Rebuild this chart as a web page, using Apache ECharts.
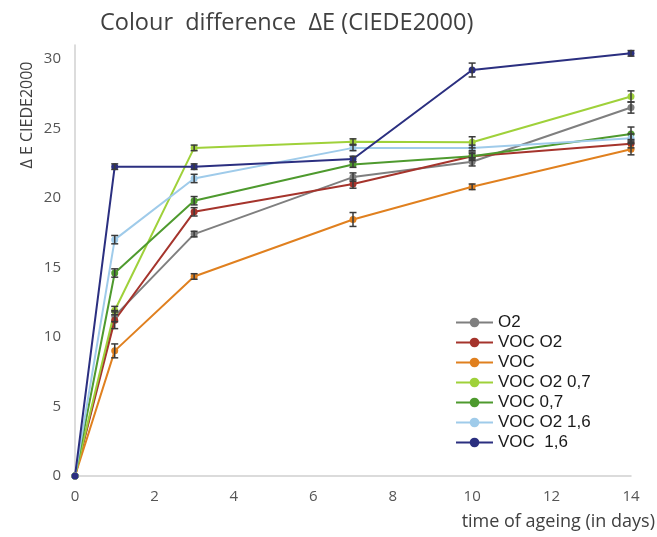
<!DOCTYPE html>
<html><head><meta charset="utf-8">
<script src="https://cdn.jsdelivr.net/npm/echarts@6/dist/echarts.min.js"></script>
<style>html,body{margin:0;padding:0;background:#fff}#c{width:657px;height:537px}</style>
</head><body><div id="c"></div>
<script>
var days = [0, 1, 3, 7, 10, 14];
var xTicks = [0, 2, 4, 6, 8, 10, 12, 14];
var seriesNames = ['O2', 'VOC O2', 'VOC', 'VOC O2 0,7', 'VOC 0,7', 'VOC O2 1,6', 'VOC  1,6'];
var o2 =        [0, 11.5, 17.4, 21.5, 22.6, 26.5];
var vocO2 =     [0, 11.2, 19.0, 21.0, 23.0, 23.9];
var voc =       [0, 9.0, 14.35, 18.45, 20.8, 23.5];
var vocO2_07 =  [0, 11.9, 23.6, 24.05, 24.0, 27.3];
var voc07 =     [0, 14.6, 19.8, 22.4, 23.0, 24.6];
var vocO2_16 =  [0, 17.0, 21.4, 23.6, 23.6, 24.3];
var voc16 =     [0, 22.25, 22.25, 22.8, 29.2, 30.4];
// error bar half-widths (estimated)
var errO2 =       [0, 0.4, 0.2, 0.3, 0.3, 0.4];
var errVocO2 =    [0, 0.6, 0.3, 0.3, 0.3, 0.3];
var errVoc =      [0, 0.5, 0.2, 0.5, 0.2, 0.4];
var errVocO2_07 = [0, 0.3, 0.2, 0.2, 0.4, 0.4];
var errVoc07 =    [0, 0.3, 0.3, 0.2, 0.2, 0.5];
var errVocO2_16 = [0, 0.3, 0.3, 0.2, 0.2, 0.3];
var errVoc16 =    [0, 0.2, 0.2, 0.2, 0.5, 0.2];

var values = [o2, vocO2, voc, vocO2_07, voc07, vocO2_16, voc16];
var errs = [errO2, errVocO2, errVoc, errVocO2_07, errVoc07, errVocO2_16, errVoc16];
var colors = ['#7f7f7f', '#a5342c', '#e0801f', '#9fd13a', '#4e9a2e', '#9fcbea', '#2b2f80'];

var series = [];
values.forEach(function (vals, i) {
  series.push({
    name: seriesNames[i], type: 'line', data: days.map(function (d, k) { return [d, vals[k]]; }),
    symbol: 'circle', symbolSize: 7, z: 3,
    lineStyle: { color: colors[i], width: 2 }, itemStyle: { color: colors[i] }
  });
});
values.forEach(function (vals, i) {
  series.push({
    type: 'custom', name: seriesNames[i] + ' err', z: 4,
    data: days.map(function (d, k) { return [d, vals[k] - errs[i][k], vals[k] + errs[i][k]]; }),
    renderItem: function (params, api) {
      var lo = api.coord([api.value(0), api.value(1)]);
      var hi = api.coord([api.value(0), api.value(2)]);
      if (Math.abs(hi[1] - lo[1]) < 3) return null;
      var w = 3.5;
      var st = { stroke: '#3a3a3a', lineWidth: 1.5 };
      return { type: 'group', children: [
        { type: 'line', shape: { x1: lo[0], y1: lo[1], x2: hi[0], y2: hi[1] }, style: st },
        { type: 'line', shape: { x1: lo[0] - w, y1: lo[1], x2: lo[0] + w, y2: lo[1] }, style: st },
        { type: 'line', shape: { x1: hi[0] - w, y1: hi[1], x2: hi[0] + w, y2: hi[1] }, style: st }
      ]};
    },
    encode: { x: 0, y: [1, 2] }, silent: true
  });
});

var chart = echarts.init(document.getElementById('c'));
chart.setOption({
  animation: false,
  backgroundColor: '#fff',
  title: {
    text: 'Colour  difference  ΔE (CIEDE2000)', left: 95, top: 6,
    textStyle: { fontFamily: 'Open Sans', fontWeight: 'normal', fontSize: 23.5, color: '#404040' }
  },
  legend: {
    data: seriesNames, orient: 'vertical', left: 455, top: 314, padding: 0,
    itemWidth: 37, itemHeight: 12, itemGap: 3,
    itemStyle: { borderWidth: 0 },
    textStyle: { fontFamily: 'Liberation Sans', fontSize: 17, color: '#1a1a1a' },
    backgroundColor: '#fff'
  },
  grid: { left: 75, right: 26, top: 45, bottom: 61 },
  xAxis: {
    type: 'value', min: 0, max: 14, interval: 2,
    axisLine: { lineStyle: { color: '#d0d0d0', width: 1.5 } },
    axisTick: { show: false }, splitLine: { show: false },
    axisLabel: { color: '#555', fontFamily: 'Open Sans', fontSize: 15, margin: 13,
      formatter: function (v) { return xTicks.indexOf(v) >= 0 ? String(v) : ''; } }
  },
  yAxis: {
    type: 'value', min: 0, max: 31, interval: 5,
    axisLine: { show: true, lineStyle: { color: '#d0d0d0', width: 1.5 } },
    axisTick: { show: false }, splitLine: { show: false },
    axisLabel: { color: '#555', fontFamily: 'Open Sans', fontSize: 15, margin: 14,
      formatter: function (v) { return v % 5 === 0 ? String(v) : ''; } }
  },
  graphic: [
    { type: 'text', x: 27, y: 115, rotation: Math.PI / 2, z: 10,
      style: { text: 'Δ E CIEDE2000', fill: '#404040', font: '16px "Open Sans"', textAlign: 'center', textVerticalAlign: 'middle' } },
    { type: 'text', right: 2, top: 513, z: 10,
      style: { text: 'time of ageing (in days)', fill: '#404040', font: '18px "Open Sans"' } }
  ],
  series: series
});
</script></body></html>
